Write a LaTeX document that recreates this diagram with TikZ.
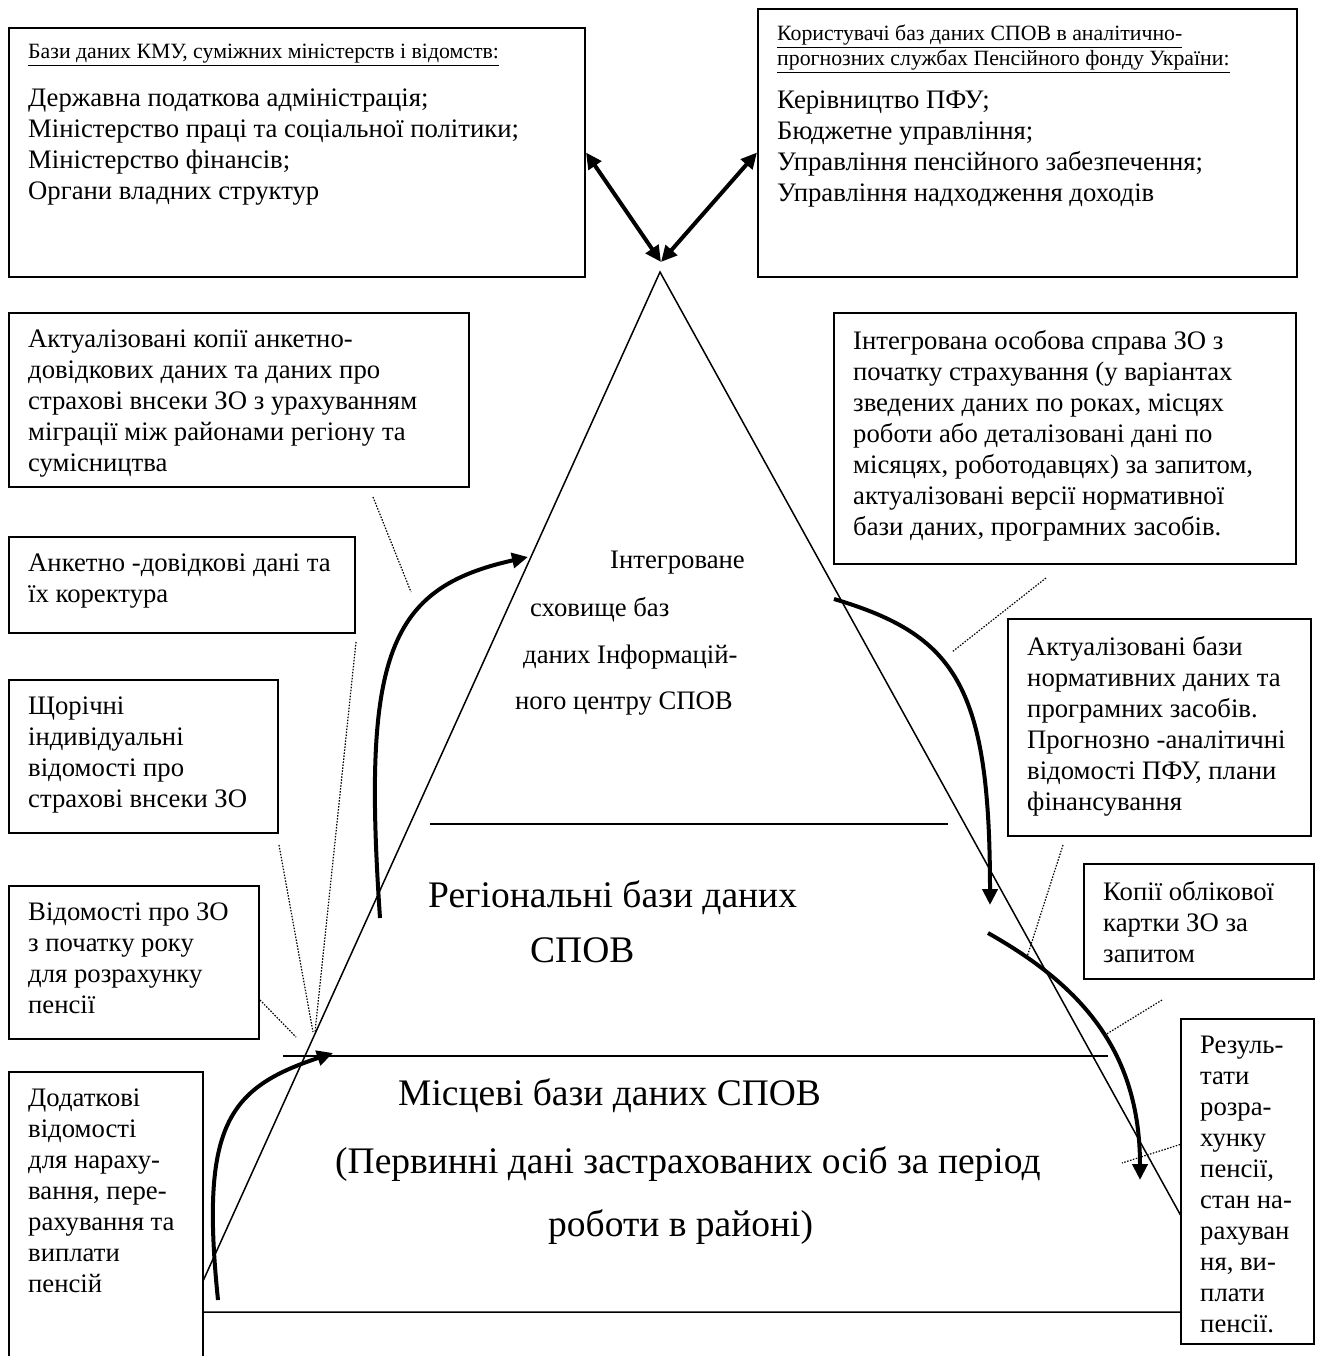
\documentclass[tikz,border=0pt]{standalone}
\usepackage{fontspec}
\setmainfont{Liberation Serif}
\usetikzlibrary{arrows.meta}
\newcommand{\boxFont}{\fontsize{26.7}{31}\selectfont}
\newcommand{\titleFont}{\fontsize{21.8}{25}\selectfont}
\newcommand{\levelFont}{\fontsize{37.5}{44}\selectfont}
\tikzstyle{diagram} = [x = 1pt, y = -1pt]
\tikzstyle{dataBoxStyle} = [draw, line width = 2pt, fill = white, anchor = north west, inner sep = 0pt]
\tikzstyle{dataBoxText} = [anchor = north west, align = left, inner sep = 0pt, font = \boxFont]
\tikzstyle{titleText} = [anchor = north west, align = left, inner sep = 0pt, font = \titleFont]
\tikzstyle{levelText} = [anchor = base west, inner sep = 0pt, font = \levelFont]
\tikzstyle{centreText} = [anchor = base west, inner sep = 0pt, font = \boxFont]
\tikzstyle{pyramidLine} = [line width = 1.5pt]
\tikzstyle{flowArrow} = [line width = 4pt, -{Triangle[length = 16pt, width = 15pt]}]
\tikzstyle{twoWayArrow} = [line width = 4pt, {Triangle[length = 16pt, width = 15pt]}-{Triangle[length = 16pt, width = 15pt]}]
\tikzstyle{leaderLine} = [line width = 1.2pt, dash pattern = on 1.5pt off 1.5pt]
\newcommand{\dataBox}[7]{
  \node [dataBoxStyle, minimum width = #4, minimum height = #5] (#1) at (#2, #3) {};
  \node [dataBoxText] (#1Text) at ([xshift = 20pt, yshift = #6]#1.north west) {#7};
}
\begin{document}
\begin{tikzpicture}[diagram]
  \useasboundingbox (0, 0) rectangle (1323, 1356);
  \clip (0, 0) rectangle (1323, 1356);

  % pyramid
  \coordinate (apex) at (660, 272);
  \draw [pyramidLine] (189, 1312) -- (apex) -- (1234, 1312) -- cycle;
  \draw [pyramidLine] (283, 1056) -- (1108, 1056);
  \draw [pyramidLine] (430, 824) -- (948, 824);

  \foreach \lineX/\lineY/\lineText [count = \i] in {610/568/Інтегроване, 530/616/сховище баз, 523/663/даних Інформацій-, 515/709/ного центру СПОВ}
    \node [centreText] (centre\i) at (\lineX, \lineY) {\lineText};
  \foreach \lineX/\lineY/\lineText [count = \i] in {428/907/Регіональні бази даних, 530/962/СПОВ, 398/1105/Місцеві бази даних СПОВ, 335/1173/(Первинні дані застрахованих осіб за період, 548/1236/роботи в районі)}
    \node [levelText] (level\i) at (\lineX, \lineY) {\lineText};

  % boxes
  \dataBox{ministries}{8}{27}{576}{249}{-62}{Державна податкова адміністрація;\\ Міністерство праці та соціальної політики;\\ Міністерство фінансів;\\ Органи владних структур}
  \node [titleText] (ministriesTitle) at ([xshift = 20pt, yshift = -17pt]ministries.north west) {\underline{Бази даних КМУ, суміжних міністерств і відомств:}};
  \dataBox{users}{757}{8}{539}{268}{-83}{Керівництво ПФУ;\\ Бюджетне управління;\\ Управління пенсійного забезпечення;\\ Управління надходження доходів}
  \node [titleText] (usersTitle) at ([xshift = 20pt, yshift = -17pt]users.north west) {\underline{Користувачі баз даних СПОВ в аналітично-}\\ \underline{прогнозних службах Пенсійного фонду України:}};

  \dataBox{copies}{8}{312}{460}{174}{-18}{Актуалізовані копії анкетно-\\ довідкових даних та даних про\\ страхові внсеки ЗО з урахуванням\\ міграції між районами регіону та\\ сумісництва}
  \dataBox{personal}{8}{536}{346}{96}{-18}{Анкетно -довідкові дані та\\ їх коректура}
  \dataBox{yearly}{8}{679}{269}{153}{-18}{Щорічні\\ індивідуальні\\ відомості про\\ страхові внсеки ЗО}
  \dataBox{sinceYear}{8}{885}{250}{153}{-18}{Відомості про ЗО\\ з початку року\\ для розрахунку\\ пенсії}
  \dataBox{extra}{8}{1071}{194}{320}{-18}{Додаткові\\ відомості\\ для нараху-\\ вання, пере-\\ рахування та\\ виплати\\ пенсій}
  \dataBox{record}{833}{312}{462}{251}{-18}{Інтегрована особова справа ЗО з\\ початку страхування (у варіантах\\ зведених даних по роках, місцях\\ роботи або деталізовані дані по\\ місяцях, роботодавцях) за запитом,\\ актуалізовані версії нормативної\\ бази даних, програмних засобів.}
  \dataBox{normative}{1007}{618}{303}{217}{-18}{Актуалізовані бази\\ нормативних даних та\\ програмних засобів.\\ Прогнозно -аналітичні\\ відомості ПФУ, плани\\ фінансування}
  \dataBox{card}{1083}{863}{230}{115}{-18}{Копії облікової\\ картки ЗО за\\ запитом}
  \dataBox{results}{1180}{1018}{133}{325}{-18}{Резуль-\\ тати\\ розра-\\ хунку\\ пенсії,\\ стан на-\\ рахуван\\ ня, ви-\\ плати\\ пенсії.}

  % exchange with the top boxes
  \coordinate (apexTop) at (661, 262);
  \draw [twoWayArrow] (ministries.east) -- (apexTop);
  \draw [twoWayArrow] (users.west |- ministries.east) -- (apexTop);

  % flows between levels
  \coordinate (regionalRise) at (380, 918);
  \coordinate (archiveEntry) at (528, 557);
  \coordinate (localRise) at (218, 1300);
  \coordinate (regionalEntry) at (333, 1053);
  \coordinate (archiveExit) at (834, 599);
  \coordinate (regionalDrop) at (990, 905);
  \coordinate (regionalExit) at (988, 933);
  \coordinate (localDrop) at (1140, 1180);
  \draw [flowArrow] (regionalRise) .. controls (362, 655) and (388, 588) .. (archiveEntry);
  \draw [flowArrow] (localRise) .. controls (200, 1125) and (228, 1088) .. (regionalEntry);
  \draw [flowArrow] (archiveExit) .. controls (955, 635) and (990, 685) .. (regionalDrop);
  \draw [flowArrow] (regionalExit) .. controls (1080, 985) and (1140, 1050) .. (localDrop);

  % leaders
  \coordinate (copiesMark) at (411, 592);
  \coordinate (personalMark) at (315, 1032);
  \coordinate (yearlyMark) at (313, 1032);
  \coordinate (sinceYearMark) at (296, 1037);
  \coordinate (recordMark) at (952, 652);
  \coordinate (normativeMark) at (1027, 957);
  \coordinate (cardMark) at (1105, 1035);
  \coordinate (resultsMark) at (1122, 1163);
  \draw [leaderLine] ([shift = {(365, 9)}]copies.south west) -- (copiesMark);
  \draw [leaderLine] ([yshift = -8pt]personal.south east) -- (personalMark);
  \draw [leaderLine] ([yshift = -11pt]yearly.south east) -- (yearlyMark);
  \draw [leaderLine] ([yshift = 40pt]sinceYear.south east) -- (sinceYearMark);
  \draw [leaderLine] ([shift = {(213, 13)}]record.south west) -- (recordMark);
  \draw [leaderLine] ([shift = {(56, 8)}]normative.south west) -- (normativeMark);
  \draw [leaderLine] ([shift = {(-37, 20)}]card.south) -- (cardMark);
  \draw [leaderLine] ([yshift = 37pt]results.west) -- (resultsMark);
\end{tikzpicture}
\end{document}
